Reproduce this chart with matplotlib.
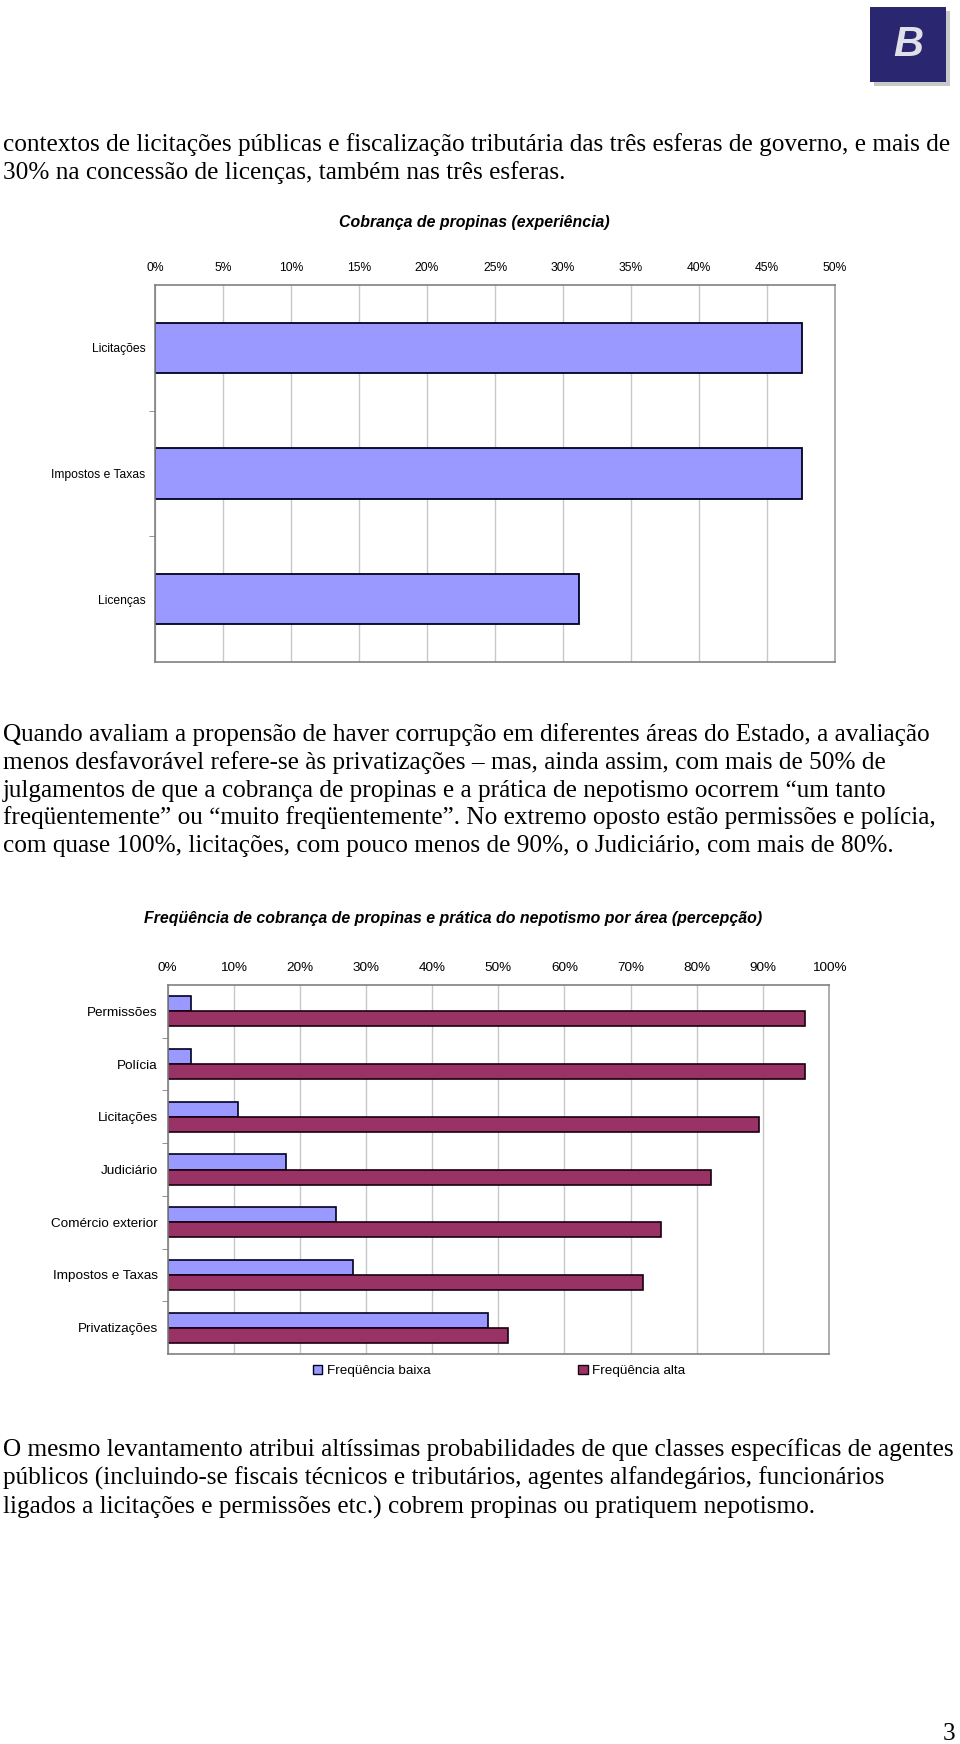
import matplotlib
matplotlib.use("Agg")
import matplotlib.pyplot as plt
from matplotlib.patches import Rectangle, Patch

# data
exp_labels = ["Licitações", "Impostos e Taxas", "Licenças"]
exp_values = [47.6, 47.6, 31.2]

area_labels = ["Permissões", "Polícia", "Licitações", "Judiciário",
               "Comércio exterior", "Impostos e Taxas", "Privatizações"]
freq_baixa = [3.6, 3.6, 10.6, 17.9, 25.4, 28.1, 48.5]
freq_alta = [96.4, 96.4, 89.4, 82.2, 74.6, 71.9, 51.5]

W, H = 960, 1744
fig = plt.figure(figsize=(W / 100, H / 100), dpi=100)
fig.patch.set_facecolor("white")

SANS = "Liberation Sans"
SERIF = "Liberation Serif"


def fx(x):
    return x / W


def fy(y):
    return 1 - y / H


def body_lines(lines, y0, step):
    for i, line in enumerate(lines):
        fig.text(fx(3), fy(y0 + i * step), line, family=SERIF, fontsize=18.2,
                 ha="left", va="baseline")


# logo top right
fig.add_artist(Rectangle((fx(874), fy(86)), fx(76), 75 / H, transform=fig.transFigure,
                         facecolor="#c8c8c8", edgecolor="none"))
fig.add_artist(Rectangle((fx(870), fy(82)), fx(76), 75 / H, transform=fig.transFigure,
                         facecolor="#2b2670", edgecolor="none"))
fig.text(fx(908), fy(45), "B", family=SANS, fontsize=30, fontweight="bold",
         style="italic", color="#e0e0e8", ha="center", va="center")

body_lines(["contextos de licitações públicas e fiscalização tributária das três esferas de governo, e mais de",
            "30% na concessão de licenças, também nas três esferas."], 151, 28)


def style_axes(ax, ncat, tick_size):
    ax.set_ylim(ncat - 0.5, -0.5)
    ax.xaxis.tick_top()
    ax.grid(axis="x", color="#c8c8c8", linewidth=1)
    ax.set_axisbelow(True)
    for s in ax.spines.values():
        s.set_color("#808080")
        s.set_linewidth(1.2)
    ax.spines["right"].set_color("#a0a0a0")
    ax.tick_params(axis="x", length=0, pad=8, labelsize=tick_size)
    ax.tick_params(axis="y", which="major", length=0, pad=7, labelsize=tick_size)
    ax.set_yticks([i + 0.5 for i in range(ncat - 1)], minor=True)
    ax.tick_params(axis="y", which="minor", length=4, color="#808080")
    for t in ax.get_xticklabels() + ax.get_yticklabels():
        t.set_family(SANS)


# chart 1
ax1 = fig.add_axes([fx(155), fy(662), 680 / W, 377 / H])
ax1.barh(range(len(exp_labels)), exp_values, height=0.4, color="#9999ff",
         edgecolor="#000022", linewidth=1.3)
ax1.set_xlim(0, 50)
ax1.set_xticks(range(0, 51, 5))
ax1.set_xticklabels([f"{v}%" for v in range(0, 51, 5)])
ax1.set_yticks(range(len(exp_labels)))
ax1.set_yticklabels(exp_labels)
style_axes(ax1, len(exp_labels), 8.7)
fig.text(fx(474), fy(223), "Cobrança de propinas (experiência)", family=SANS,
         fontsize=11.4, fontweight="bold", style="italic", ha="center", va="center")

body_lines(["Quando avaliam a propensão de haver corrupção em diferentes áreas do Estado, a avaliação",
            "menos desfavorável refere-se às privatizações – mas, ainda assim, com mais de 50% de",
            "julgamentos de que a cobrança de propinas e a prática de nepotismo ocorrem “um tanto",
            "freqüentemente” ou “muito freqüentemente”. No extremo oposto estão permissões e polícia,",
            "com quase 100%, licitações, com pouco menos de 90%, o Judiciário, com mais de 80%."],
           741, 27.8)

# chart 2
ax2 = fig.add_axes([fx(167.5), fy(1354), 661.5 / W, 369 / H])
ypos = list(range(len(area_labels)))
bh = 0.285
ax2.barh([y - bh / 2 for y in ypos], freq_baixa, height=bh, color="#9999ff",
         edgecolor="#000022", linewidth=1.2, label="Freqüência baixa")
ax2.barh([y + bh / 2 for y in ypos], freq_alta, height=bh, color="#993366",
         edgecolor="#1a0010", linewidth=1.2, label="Freqüência alta")
ax2.set_xlim(0, 100)
ax2.set_xticks(range(0, 101, 10))
ax2.set_xticklabels([f"{v}%" for v in range(0, 101, 10)])
ax2.set_yticks(ypos)
ax2.set_yticklabels(area_labels)
style_axes(ax2, len(area_labels), 9.7)
fig.text(fx(453), fy(918),
         "Freqüência de cobrança de propinas e prática do nepotismo por área (percepção)",
         family=SANS, fontsize=11.4, fontweight="bold", style="italic",
         ha="center", va="center")

handles = [Patch(facecolor="#9999ff", edgecolor="#000022", label="Freqüência baixa"),
           Patch(facecolor="#993366", edgecolor="#1a0010", label="Freqüência alta")]
fig.legend(handles=handles, loc="center", bbox_to_anchor=(fx(499), fy(1371)), ncol=2,
           frameon=False, handlelength=0.7, handleheight=0.7, handletextpad=0.3,
           columnspacing=11.0, prop={"family": SANS, "size": 9.7})

body_lines(["O mesmo levantamento atribui altíssimas probabilidades de que classes específicas de agentes",
            "públicos (incluindo-se fiscais técnicos e tributários, agentes alfandegários, funcionários",
            "ligados a licitações e permissões etc.) cobrem propinas ou pratiquem nepotismo."],
           1456, 29)

fig.text(fx(955), fy(1740), "3", family=SERIF, fontsize=18.2, ha="right", va="baseline")

fig.savefig("out.png", dpi=100)
